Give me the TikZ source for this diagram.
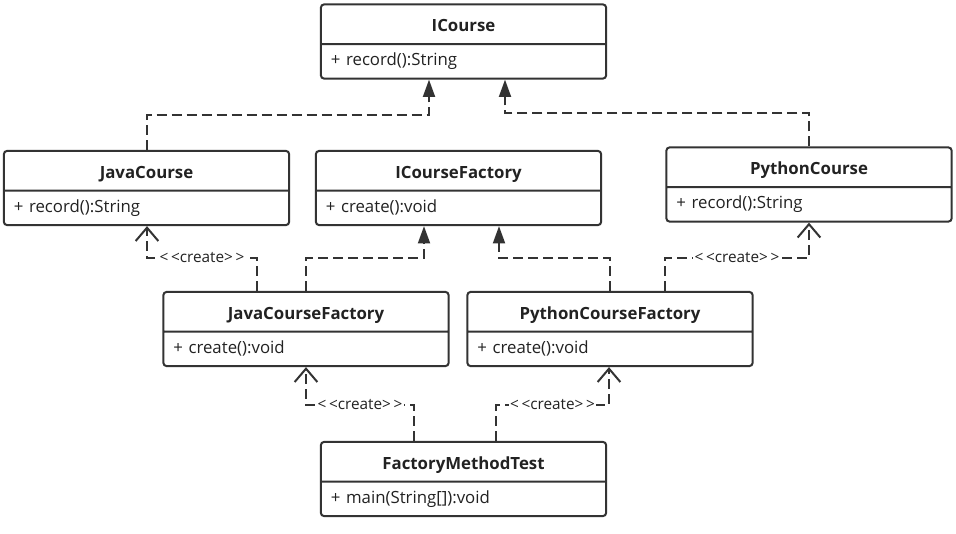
\documentclass[tikz,border=0pt]{standalone}
\usepackage{fontspec}
\setmainfont{Open Sans}
\usetikzlibrary{positioning,arrows.meta,calc,shapes.multipart}
\definecolor{UmlLine}{RGB}{51,51,51}
\definecolor{UmlText}{RGB}{34,34,34}

\tikzset{
  umlclass/.style={rectangle split, rectangle split parts=2, draw=UmlLine, line width=1.5pt,
    rounded corners=2.5pt, text width=199pt, inner xsep=7.5pt, inner ysep=5.9pt,
    text=UmlText, font=\fontsize{12.6}{15}\selectfont, fill=white},
  realize/.style={draw=UmlLine, line width=1.5pt, dash pattern=on 7.5pt off 3.75pt,
    -{Triangle[length=13pt,width=9pt]}},
  create/.style={draw=UmlLine, line width=1.5pt, dash pattern=on 7.5pt off 3.75pt,
    -{Straight Barb[length=10pt,width=17pt]}},
  stereo/.style={fill=white, inner sep=1pt, text=UmlText, font=\fontsize{11.5}{13}\selectfont}
}
\newcommand{\umltitle}[1]{\noindent\rule[-6pt]{0pt}{16.5pt}\hfill\raisebox{-3.3pt}[0pt][0pt]{\textbf{#1}}\hfill\null}
\newcommand{\umlop}[1]{\noindent\rule[-3pt]{0pt}{10.5pt}#1}

\begin{document}
\begin{tikzpicture}[x=0.75pt, y=-0.75pt]
  \useasboundingbox (0,0) rectangle (956,533);

  % classes
  \node[umlclass] (ic) at (463.5,41.5) {\umltitle{ICourse}\nodepart{two}\umlop{+ record():String}};
  \node[umlclass] (jc) at (146.5,188) {\umltitle{JavaCourse}\nodepart{two}\umlop{+ record():String}};
  \node[umlclass] (icf) at (458.5,188) {\umltitle{ICourseFactory}\nodepart{two}\umlop{+ create():void}};
  \node[umlclass] (pc) at (809,184.5) {\umltitle{PythonCourse}\nodepart{two}\umlop{+ record():String}};
  \node[umlclass] (jcf) at (306,329) {\umltitle{JavaCourseFactory}\nodepart{two}\umlop{+ create():void}};
  \node[umlclass] (pcf) at (610,329) {\umltitle{PythonCourseFactory}\nodepart{two}\umlop{+ create():void}};
  \node[umlclass] (fmt) at (463.5,479) {\umltitle{FactoryMethodTest}\nodepart{two}\umlop{+ main(String[]):void}};

  % realization
  \coordinate (r1) at (429,115);
  \coordinate (r2) at (505,113);
  \coordinate (r3) at (424,258);
  \coordinate (r4) at (499,258);
  \draw[realize] (jc.north) |- (r1) -- (r1 |- ic.south);
  \draw[realize] (pc.north) |- (r2) -- (r2 |- ic.south);
  \draw[realize] (jcf.north) |- (r3) -- (r3 |- icf.south);
  \draw[realize] (pcf.north) |- (r4) -- (r4 |- icf.south);

  % create dependencies
  \coordinate (c1) at (147,258);
  \coordinate (c2) at (809,258);
  \coordinate (c3) at (306,405);
  \coordinate (c4) at (609,405);
  \draw[create] ($(jcf.north)+(-49,0)$) |- node[stereo, pos=.75] (s1) {{<}\,{<}create{>}\,{>}} (c1) -- (c1 |- jc.south);
  \draw[create] ($(pcf.north)+(55,0)$) |- node[stereo, pos=.75] (s2) {{<}\,{<}create{>}\,{>}} (c2) -- (c2 |- pc.south);
  \draw[create] ($(fmt.north)+(-49.5,0)$) |- node[stereo, pos=.75] (s3) {{<}\,{<}create{>}\,{>}} (c3) -- (c3 |- jcf.south);
  \draw[create] ($(fmt.north)+(32.5,0)$) |- node[stereo, pos=.75] (s4) {{<}\,{<}create{>}\,{>}} (c4) -- (c4 |- pcf.south);
\end{tikzpicture}
\end{document}
